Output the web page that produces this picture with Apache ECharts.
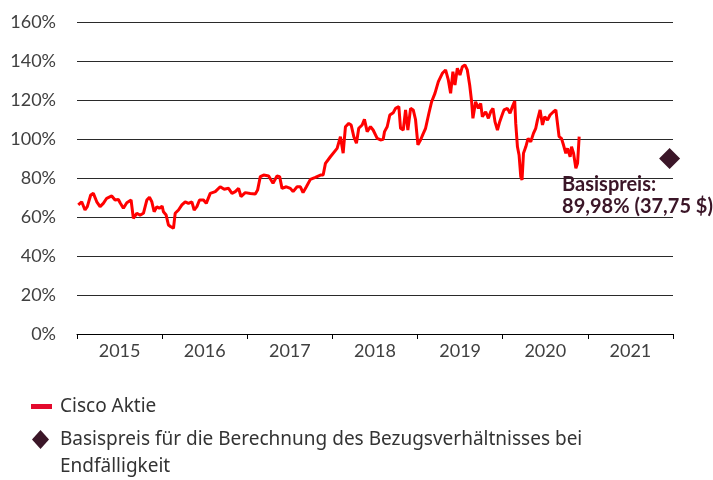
<!DOCTYPE html>
<html lang="de">
<head>
  <meta charset="UTF-8">
  <title>Cisco Aktie</title>
  <script src="https://cdn.jsdelivr.net/npm/echarts@6/dist/echarts.min.js"></script>
  <style>
    html, body { margin: 0; padding: 0; background: #fff; }
  </style>
</head>
<body>
  <div id="main" style="width: 713px;height:480px"></div>
  <script>
    // Jahresbeschriftungen der x-Achse
    var years = ['2015', '2016', '2017', '2018', '2019', '2020', '2021'];
    // Kursverlauf (Zeit als Jahresbruchteil, Wert in % vom Referenzkurs)
    var ciscoTimes = [
      2015.015, 2015.055, 2015.094, 2015.121, 2015.161, 2015.192, 2015.232, 2015.271, 2015.309, 2015.349,
      2015.408, 2015.447, 2015.486, 2015.506, 2015.545, 2015.585, 2015.635, 2015.662, 2015.702, 2015.741,
      2015.780, 2015.820, 2015.851, 2015.879, 2015.906, 2015.938, 2015.968,
      2016.000, 2016.015, 2016.047, 2016.074, 2016.102, 2016.133, 2016.153, 2016.192, 2016.232, 2016.271,
      2016.309, 2016.349, 2016.376, 2016.408, 2016.439, 2016.486, 2016.518, 2016.565, 2016.624, 2016.682,
      2016.729, 2016.780, 2016.820, 2016.859, 2016.898, 2016.926, 2016.976,
      2017.035, 2017.094, 2017.121, 2017.153, 2017.192, 2017.251, 2017.302, 2017.349, 2017.380, 2017.408,
      2017.459, 2017.506, 2017.538, 2017.585, 2017.624, 2017.655, 2017.694, 2017.741, 2017.800, 2017.859,
      2017.891, 2017.918, 2017.976,
      2018.055, 2018.094, 2018.126, 2018.153, 2018.192, 2018.220, 2018.251, 2018.282, 2018.309, 2018.349,
      2018.376, 2018.408, 2018.447, 2018.478, 2018.526, 2018.565, 2018.596, 2018.612, 2018.643, 2018.674,
      2018.714, 2018.741, 2018.780, 2018.800, 2018.832, 2018.859, 2018.886, 2018.918, 2018.949, 2018.976,
      2019.004, 2019.035, 2019.060, 2019.094, 2019.133, 2019.165, 2019.204, 2019.244, 2019.291, 2019.329,
      2019.361, 2019.388, 2019.415, 2019.439, 2019.467, 2019.498, 2019.526, 2019.556, 2019.584, 2019.612,
      2019.635, 2019.650, 2019.682, 2019.714, 2019.741, 2019.761, 2019.800, 2019.832, 2019.859, 2019.886,
      2019.909, 2019.938, 2019.965,
      2020.000, 2020.015, 2020.055, 2020.086, 2020.114, 2020.141, 2020.153, 2020.173, 2020.192, 2020.212,
      2020.227, 2020.244, 2020.271, 2020.298, 2020.329, 2020.361, 2020.388, 2020.408, 2020.439, 2020.467,
      2020.494, 2020.526, 2020.556, 2020.596, 2020.624, 2020.643, 2020.662, 2020.690, 2020.714, 2020.741,
      2020.761, 2020.792, 2020.808, 2020.832, 2020.859, 2020.879, 2020.898
    ];
    var ciscoValues = [
      66.2, 67.8, 63.6, 65.3, 71.3, 72.1, 67.8, 65.3, 67, 69.6,
      70.8, 68.7, 69, 67.3, 64.5, 67.3, 68.7, 59.3, 61.9, 61,
      61.9, 68.7, 70.1, 67.8, 62.7, 65.3, 64.5,
      65.6, 62.7, 61, 55.9, 55, 54.2, 61.9, 63.6, 66.2, 67.8,
      67, 67.8, 63.6, 65.3, 68.7, 68.7, 67, 72.1, 73, 75.5,
      74.2, 74.7, 72.1, 73, 74.7, 70.5, 72.5,
      72.1, 71.8, 73.8, 80.7, 81.5, 81, 77.3, 81, 80.7, 74.7,
      75.5, 74.7, 73, 75.5, 75.5, 72.5, 75.5, 79.3, 80.3, 81.5,
      81.5, 87.5, 90.9,
      95.2, 101.2, 92.7, 106.3, 108, 107.2, 101.2, 97.8, 105.5, 107.2,
      110.1, 103.8, 106.3, 104.6, 100.3, 99.5, 99.8, 103.8, 106.3, 112.3,
      113.5, 115.7, 116.6, 105.5, 104.6, 114.9, 104.6, 115.7, 114.9, 110,
      97, 99.5, 102.1, 105.5, 113.2, 119.1, 123.4, 129.4, 133.7, 135.4,
      130.3, 123.4, 134.5, 127.7, 136.3, 132.8, 137.1, 138, 135.4, 127.7,
      119.1, 110.6, 119.1, 115.7, 118.3, 111.4, 114, 110.6, 114, 115.7,
      108.9, 104.6, 108.9,
      113.2, 114.9, 115.7, 113.2, 116.6, 119.5, 108, 96, 91.8, 80.7,
      79, 92.7, 96, 100.3, 98.6, 102.9, 105.5, 109.7, 114.9, 107.2,
      111.4, 109.7, 112.3, 114, 114.9, 115.7, 101.2, 100.3, 96.9, 92.7,
      95.2, 90.9, 96, 92.7, 85, 87.5, 101.2
    ];
    // Basispreis
    var strikeTime = 2021.96;
    var strikeValue = 89.98;

    var lineData = ciscoTimes.map(function (t, i) {
      return [t, ciscoValues[i]];
    });

    var font = 'Lato';
    var legendFont = 'Noto Sans';
    var purple = '#3b1628';

    var myChart = echarts.init(document.getElementById('main'));
    var option = {
      animation: false,
      grid: { left: 77, right: 40, top: 22, bottom: 146 },
      legend: [
        {
          data: [{ name: 'Cisco Aktie', icon: 'rect', itemStyle: { color: '#e30a2d' } }],
          left: 31, top: 397, padding: 0,
          itemWidth: 21, itemHeight: 5,
          selectedMode: false,
          textStyle: { fontSize: 19, fontFamily: legendFont, color: '#333', padding: [0, 0, 0, 3] }
        },
        {
          data: [{ name: 'Basispreis', icon: 'diamond', itemStyle: { color: purple, opacity: 1 } }],
          left: 32, top: 399, padding: 0,
          itemWidth: 17, itemHeight: 19,
          selectedMode: false,
          // leere erste Zeile, damit die erste Textzeile neben dem Symbol steht
          formatter: function () {
            return '\nBasispreis für die Berechnung des Bezugsverhältnisses bei\nEndfälligkeit';
          },
          textStyle: {
            fontSize: 19, fontFamily: legendFont, color: '#333',
            lineHeight: 27, padding: [0, 0, 0, 6]
          }
        }
      ],
      xAxis: [
        {
          type: 'value',
          min: 2015, max: 2022, interval: 1,
          axisLine: { lineStyle: { color: '#000', width: 1 } },
          axisTick: { show: true, length: 5, lineStyle: { color: '#000' } },
          axisLabel: { show: false },
          splitLine: { show: false }
        },
        {
          type: 'category',
          data: years,
          position: 'bottom',
          axisLine: { show: false },
          axisTick: { show: false },
          axisLabel: { fontSize: 18, fontFamily: font, color: '#404040', margin: 8 },
          splitLine: { show: false }
        }
      ],
      yAxis: {
        type: 'value',
        min: 0, max: 160, interval: 20,
        axisLine: { show: false },
        axisTick: { show: false },
        axisLabel: {
          formatter: '{value}%',
          fontSize: 18, fontFamily: font, color: '#404040', margin: 21
        },
        splitLine: { lineStyle: { color: '#2a2a2a', width: 1 } }
      },
      series: [
        {
          name: 'Cisco Aktie',
          type: 'line',
          xAxisIndex: 0,
          data: lineData,
          showSymbol: false,
          symbol: 'none',
          lineStyle: { color: '#ff0000', width: 3 },
          itemStyle: { color: '#ff0000' }
        },
        {
          name: 'Basispreis',
          type: 'scatter',
          xAxisIndex: 0,
          symbol: 'diamond',
          symbolSize: 21,
          data: [[strikeTime, strikeValue]],
          itemStyle: { color: purple, opacity: 1 },
          label: {
            show: true,
            position: [-97, 26],
            formatter: 'Basispreis:\n89,98% (37,75 $)',
            fontSize: 20, fontWeight: 'bold', fontFamily: font,
            color: purple, lineHeight: 22
          }
        }
      ]
    };
    myChart.setOption(option);
  </script>
</body>
</html>
